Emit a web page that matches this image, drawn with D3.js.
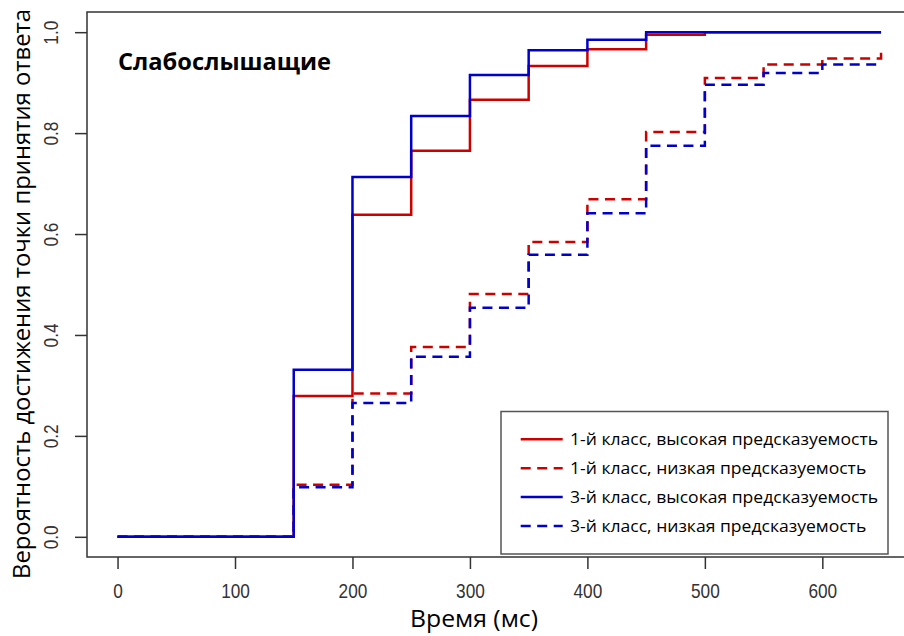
<!DOCTYPE html>
<html>
<head>
<meta charset="utf-8">
<script src="https://cdnjs.cloudflare.com/ajax/libs/d3/7.8.5/d3.min.js"></script>
<style>
  body { margin: 0; background: #fff; }
  #chart-holder { width: 904px; height: 636px; overflow: hidden; }
  text { font-family: "Open Sans", "Noto Sans", sans-serif; fill: #000; }
  .tick text { font-family: "Liberation Sans Narrow", "Liberation Sans", Arial, sans-serif; fill: #333; }
</style>
</head>
<body>
<div id="chart-holder"></div>
<script>
// Step points (ms) and cumulative probabilities
var times = [0, 150, 200, 250, 300, 350, 400, 450, 500, 550, 600, 650];
var class1High = [0, 0.279, 0.638, 0.765, 0.866, 0.933, 0.966, 0.995, 1, 1, 1, 1];
var class1Low  = [0, 0.103, 0.284, 0.376, 0.481, 0.584, 0.669, 0.802, 0.909, 0.936, 0.948, 0.960];
var class3High = [0, 0.331, 0.713, 0.834, 0.915, 0.964, 0.985, 1, 1, 1, 1, 1];
var class3Low  = [0, 0.098, 0.265, 0.357, 0.454, 0.559, 0.641, 0.775, 0.896, 0.919, 0.936, 0.936];

var seriesNames = [
  "1-й класс, высокая предсказуемость",
  "1-й класс, низкая предсказуемость",
  "3-й класс, высокая предсказуемость",
  "3-й класс, низкая предсказуемость"
];
var xTicks = [0, 100, 200, 300, 400, 500, 600];
var yTicks = [0, 0.2, 0.4, 0.6, 0.8, 1.0];

var width = 904, height = 636;
var plotLeft = 87, plotRight = 911.6, plotTop = 12, plotBottom = 557;
var red = "#cd0000", blue = "#0000cd";
var dash = "10,6.5";

var svg = d3.select("#chart-holder")
  .append("svg")
  .attr("width", width)
  .attr("height", height);

// R style: 4% padding around data range
var x = d3.scaleLinear().domain([-26, 676]).range([plotLeft, plotRight]);
var y = d3.scaleLinear().domain([-0.04, 1.04]).range([plotBottom, plotTop]);

// Series to draw (blue on top)
var series = [
  { name: seriesNames[0], values: class1High, color: red, dashed: false },
  { name: seriesNames[1], values: class1Low, color: red, dashed: true },
  { name: seriesNames[2], values: class3High, color: blue, dashed: false },
  { name: seriesNames[3], values: class3Low, color: blue, dashed: true }
];

var line = d3.line()
  .x(function(d) { return x(d[0]); })
  .y(function(d) { return y(d[1]); })
  .curve(d3.curveStepAfter);

svg.append("g")
  .selectAll(".step")
  .data(series)
  .enter()
  .append("path")
  .attr("class", "step")
  .attr("d", function(d) { return line(d.values.map(function(v, i) { return [times[i], v]; })); })
  .attr("fill", "none")
  .attr("stroke", function(d) { return d.color; })
  .attr("stroke-width", 2.5)
  .attr("stroke-dasharray", function(d) { return d.dashed ? dash : null; });

// narrow look for tick labels
function narrow(sel) {
  sel.each(function() {
    var len = this.getComputedTextLength();
    d3.select(this).attr("textLength", len * 0.82).attr("lengthAdjust", "spacingAndGlyphs");
  });
}

// Axes
var xAxis = svg.append("g")
  .attr("transform", "translate(0," + plotBottom + ")")
  .call(d3.axisBottom(x).tickValues(xTicks).tickSize(12).tickPadding(14).tickFormat(d3.format("d")));
xAxis.select(".domain").remove();
xAxis.selectAll(".tick line").attr("stroke", "#333").attr("stroke-width", 1.5);
xAxis.selectAll(".tick text").style("font-size", "21px").call(narrow);

var yAxis = svg.append("g")
  .attr("transform", "translate(" + plotLeft + ",0)")
  .call(d3.axisLeft(y).tickValues(yTicks).tickSize(12).tickFormat(d3.format(".1f")));
yAxis.select(".domain").remove();
yAxis.selectAll(".tick line").attr("stroke", "#333").attr("stroke-width", 1.5);
yAxis.selectAll(".tick text")
  .style("font-size", "21px")
  .attr("text-anchor", "middle")
  .attr("transform", "rotate(-90)")
  .attr("x", 0)
  .attr("y", -36)
  .attr("dy", "0.35em")
  .call(narrow);

// Plot box
svg.append("rect")
  .attr("x", plotLeft)
  .attr("y", plotTop)
  .attr("width", plotRight - plotLeft)
  .attr("height", plotBottom - plotTop)
  .attr("fill", "none")
  .attr("stroke", "#333")
  .attr("stroke-width", 1.5);

// Titles
svg.append("text")
  .attr("x", 118)
  .attr("y", 70)
  .style("font-size", "23px")
  .style("font-weight", "bold")
  .attr("textLength", 213)
  .attr("lengthAdjust", "spacingAndGlyphs")
  .text("Слабослышащие");

svg.append("text")
  .attr("x", 474)
  .attr("y", 627)
  .attr("text-anchor", "middle")
  .style("font-size", "23px")
  .attr("textLength", 128)
  .attr("lengthAdjust", "spacingAndGlyphs")
  .text("Время (мс)");

svg.append("text")
  .attr("transform", "translate(30,294) rotate(-90)")
  .attr("text-anchor", "middle")
  .style("font-size", "23px")
  .attr("textLength", 570)
  .attr("lengthAdjust", "spacingAndGlyphs")
  .text("Вероятность достижения точки принятия ответа");

// Legend
var legend = svg.append("g").attr("class", "legend");
legend.append("rect")
  .attr("x", 501)
  .attr("y", 411.5)
  .attr("width", 387)
  .attr("height", 142.5)
  .attr("fill", "#fff")
  .attr("stroke", "#555")
  .attr("stroke-width", 1.5);

var rowY = d3.scalePoint().domain(seriesNames).range([439.3, 526]);

var rows = legend.selectAll(".row")
  .data(series)
  .enter()
  .append("g")
  .attr("class", "row")
  .attr("transform", function(d) { return "translate(0," + rowY(d.name) + ")"; });

rows.append("line")
  .attr("x1", 520.7)
  .attr("x2", 562.7)
  .attr("stroke", function(d) { return d.color; })
  .attr("stroke-width", 2.5)
  .attr("stroke-dasharray", function(d) { return d.dashed ? dash : null; });

var labels = rows.append("text")
  .attr("x", 570)
  .attr("dy", "0.35em")
  .style("font-size", "17px")
  .text(function(d) { return d.name; });

// squeeze labels to the reference width (first row ~308px)
var k = 308 / labels.node().getComputedTextLength();
labels.each(function() {
  var len = this.getComputedTextLength();
  d3.select(this).attr("textLength", len * k).attr("lengthAdjust", "spacingAndGlyphs");
});
</script>
</body>
</html>
